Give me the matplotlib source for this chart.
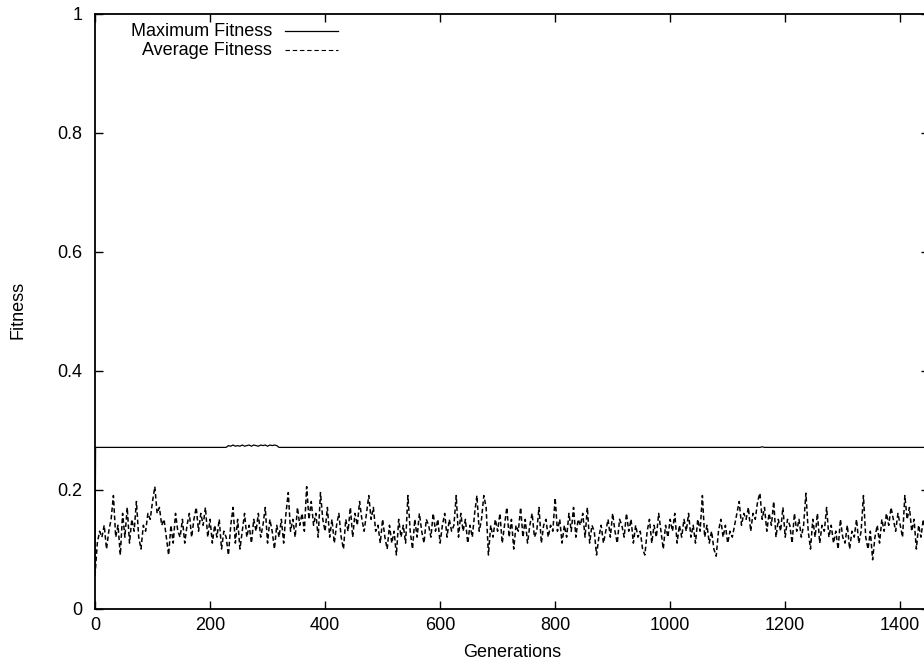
import matplotlib.pyplot as plt
from matplotlib.lines import Line2D

plt.rcParams["font.family"] = ["Liberation Sans", "DejaVu Sans"]
plt.rcParams["font.size"] = 13

# Average fitness, sampled every 4 generations (0 .. 1448)
avg_step = 4
avg_fitness = [
    0.055, 0.11, 0.13, 0.12, 0.14, 0.10, 0.13, 0.15, 0.19, 0.12,
    0.14, 0.09, 0.16, 0.12, 0.17, 0.11, 0.15, 0.13, 0.18, 0.12,
    0.10, 0.14, 0.13, 0.16, 0.15, 0.18, 0.205, 0.16, 0.17, 0.14,
    0.15, 0.12, 0.09, 0.14, 0.11, 0.16, 0.13, 0.12, 0.15, 0.11,
    0.14, 0.16, 0.12, 0.15, 0.17, 0.13, 0.16, 0.14, 0.17, 0.12,
    0.15, 0.11, 0.14, 0.12, 0.15, 0.10, 0.13, 0.12, 0.09, 0.14,
    0.17, 0.11, 0.15, 0.10, 0.13, 0.16, 0.12, 0.14, 0.11, 0.15,
    0.13, 0.16, 0.12, 0.14, 0.17, 0.11, 0.15, 0.13, 0.10, 0.14,
    0.12, 0.15, 0.11, 0.16, 0.195, 0.13, 0.15, 0.12, 0.17, 0.14,
    0.16, 0.13, 0.205, 0.15, 0.18, 0.14, 0.16, 0.12, 0.195, 0.15,
    0.13, 0.17, 0.12, 0.15, 0.11, 0.14, 0.16, 0.12, 0.10, 0.15,
    0.13, 0.17, 0.12, 0.16, 0.14, 0.18, 0.15, 0.13, 0.16, 0.19,
    0.15, 0.17, 0.13, 0.14, 0.11, 0.15, 0.12, 0.10, 0.14, 0.11,
    0.13, 0.09, 0.15, 0.12, 0.14, 0.11, 0.19, 0.13, 0.10, 0.15,
    0.12, 0.16, 0.13, 0.11, 0.15, 0.14, 0.12, 0.16, 0.13, 0.15,
    0.11, 0.14, 0.16, 0.12, 0.15, 0.13, 0.14, 0.19, 0.12, 0.16,
    0.13, 0.15, 0.11, 0.14, 0.12, 0.16, 0.19, 0.13, 0.15, 0.19,
    0.17, 0.09, 0.14, 0.12, 0.15, 0.13, 0.16, 0.11, 0.14, 0.17,
    0.12, 0.15, 0.10, 0.14, 0.13, 0.17, 0.12, 0.15, 0.11, 0.14,
    0.16, 0.12, 0.13, 0.17, 0.11, 0.14, 0.15, 0.12, 0.14, 0.13,
    0.186, 0.13, 0.15, 0.11, 0.14, 0.12, 0.16, 0.13, 0.17, 0.12,
    0.15, 0.14, 0.16, 0.12, 0.17, 0.11, 0.14, 0.13, 0.09, 0.12,
    0.14, 0.11, 0.13, 0.15, 0.12, 0.16, 0.13, 0.11, 0.15, 0.14,
    0.12, 0.16, 0.13, 0.15, 0.11, 0.14, 0.12, 0.13, 0.10, 0.09,
    0.13, 0.15, 0.11, 0.14, 0.12, 0.16, 0.13, 0.10, 0.14, 0.12,
    0.15, 0.13, 0.16, 0.11, 0.14, 0.12, 0.15, 0.13, 0.16, 0.12,
    0.14, 0.11, 0.15, 0.13, 0.19, 0.12, 0.14, 0.11, 0.13, 0.10,
    0.088, 0.13, 0.15, 0.12, 0.14, 0.11, 0.13, 0.12, 0.14, 0.16,
    0.18, 0.14, 0.16, 0.15, 0.17, 0.13, 0.16, 0.15, 0.18, 0.194,
    0.15, 0.17, 0.13, 0.16, 0.14, 0.18, 0.12, 0.15, 0.13, 0.17,
    0.12, 0.15, 0.14, 0.11, 0.16, 0.13, 0.15, 0.12, 0.14, 0.194,
    0.13, 0.10, 0.15, 0.12, 0.16, 0.11, 0.14, 0.13, 0.17, 0.12,
    0.14, 0.11, 0.13, 0.10, 0.15, 0.12, 0.11, 0.14, 0.10, 0.13,
    0.12, 0.15, 0.11, 0.13, 0.19, 0.12, 0.10, 0.13, 0.082, 0.12,
    0.14, 0.11, 0.15, 0.13, 0.16, 0.14, 0.17, 0.15, 0.13, 0.16,
    0.14, 0.12, 0.19, 0.15, 0.17, 0.13, 0.15, 0.10, 0.14, 0.12,
    0.15, 0.13, 0.09,
]
avg_gens = [i * avg_step for i in range(len(avg_fitness))]

# Maximum fitness: flat except a slightly noisy stretch around 230-320
max_gens = [0, 1, 228, 232, 236, 240, 244, 248, 252, 256, 260, 264, 268,
            272, 276, 280, 284, 288, 292, 296, 300, 304, 308, 312, 316,
            320, 1156, 1160, 1164, 1450]
max_fitness = [0.06, 0.271, 0.271, 0.274, 0.273, 0.275, 0.273, 0.274,
               0.273, 0.275, 0.273, 0.274, 0.275, 0.273, 0.275, 0.274,
               0.273, 0.275, 0.274, 0.275, 0.273, 0.275, 0.274, 0.275,
               0.274, 0.271, 0.271, 0.272, 0.271, 0.271]

yticks = [0, 0.2, 0.4, 0.6, 0.8, 1]
ytick_labels = ["0", "0.2", "0.4", "0.6", "0.8", "1"]
xticks = [0, 200, 400, 600, 800, 1000, 1200, 1400]

fig = plt.figure(figsize=(9.24, 6.65), dpi=100)
ax = fig.add_axes([95 / 924, 56.5 / 665, 834 / 924, 594.5 / 665])

ax.plot(max_gens, max_fitness, color="black", linewidth=0.9)
ax.plot(avg_gens, avg_fitness, color="black", linewidth=1.1,
        dashes=(3, 1.8))

ax.set_xlim(0, 1450)
ax.set_ylim(0, 1)
ax.set_xticks(xticks)
ax.set_yticks(yticks)
ax.set_yticklabels(ytick_labels)
ax.tick_params(direction="in", length=6, width=1.0, top=True, right=True)
ax.tick_params(axis="x", pad=6)
ax.tick_params(axis="y", pad=9)
for s in ax.spines.values():
    s.set_linewidth(1.3)

ax.set_xlabel("Generations", va="center")
ax.xaxis.set_label_coords(0.5, -0.0732)
ax.set_ylabel("Fitness", va="center")
ax.yaxis.set_label_coords(-0.0923, 0.502)

# gnuplot style key: right aligned text, sample to the right
ax.text(0.2122, 0.9714, "Maximum Fitness", transform=ax.transAxes,
        ha="right", va="center")
ax.text(0.2122, 0.9394, "Average Fitness", transform=ax.transAxes,
        ha="right", va="center")
ax.add_line(Line2D([0.2278, 0.2914], [0.9714, 0.9714], transform=ax.transAxes,
                   color="black", linewidth=0.9))
ax.add_line(Line2D([0.2278, 0.2914], [0.9394, 0.9394], transform=ax.transAxes,
                   color="black", linewidth=0.8, dashes=(4, 2.5)))

fig.savefig("out.png", dpi=100)
